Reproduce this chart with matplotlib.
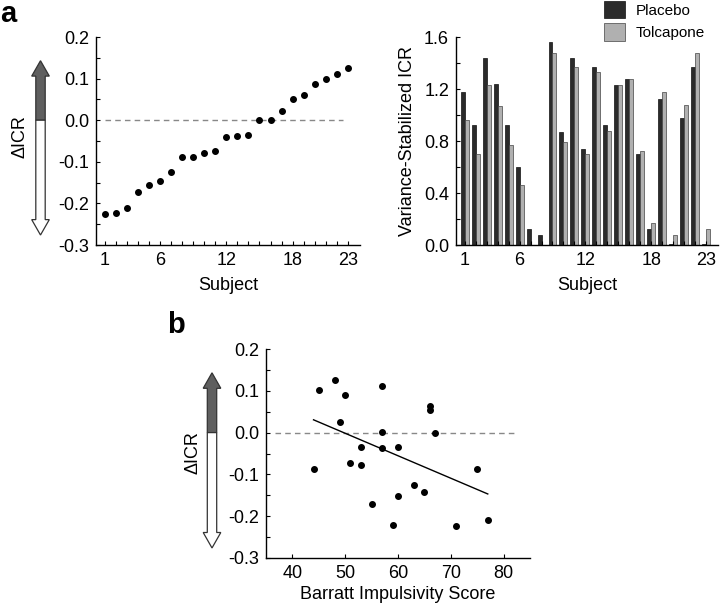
import numpy as np
import matplotlib
matplotlib.use("Agg")
import matplotlib.pyplot as plt
from matplotlib import transforms
from matplotlib.patches import Polygon
from matplotlib.ticker import MultipleLocator

plt.rcParams['font.family'] = ['Liberation Sans', 'DejaVu Sans']

# ---- data ----
subjects = np.arange(1, 24)
delta_icr = [-0.225, -0.222, -0.210, -0.172, -0.155, -0.146, -0.125, -0.088, -0.088,
             -0.078, -0.073, -0.040, -0.037, -0.035, 0.000, 0.001, 0.023, 0.052,
             0.061, 0.088, 0.100, 0.110, 0.125]
placebo = [1.18, 0.92, 1.44, 1.24, 0.92, 0.60, 0.12, 0.08, 1.56, 0.87, 1.44, 0.74,
           1.37, 0.92, 1.23, 1.28, 0.70, 0.12, 1.12, 0.01, 0.98, 1.37, 0.01]
tolcapone = [0.96, 0.70, 1.23, 1.07, 0.77, 0.46, 0.0, 0.0, 1.48, 0.79, 1.37, 0.70,
             1.33, 0.88, 1.23, 1.28, 0.72, 0.17, 1.18, 0.08, 1.08, 1.48, 0.12]
subject_ticks = [1, 6, 12, 18, 23]

barratt = [44, 45, 48, 50, 49, 51, 53, 53, 55, 57, 57, 57, 59, 60, 60, 63, 65, 66, 66,
           67, 71, 75, 77]
barratt_dicr = [-0.087, 0.101, 0.127, 0.090, 0.025, -0.072, -0.034, -0.077, -0.171,
                0.111, 0.001, -0.038, -0.220, -0.034, -0.152, -0.125, -0.143, 0.063,
                0.054, 0.000, -0.224, -0.087, -0.210]
fit_x = [44, 77]

W, H = 720, 607
FS = 13
fig = plt.figure(figsize=(W / 100, H / 100), dpi=100)


def ax_at(x0, y0, x1, y1):
    return fig.add_axes([x0 / W, 1 - y1 / H, (x1 - x0) / W, (y1 - y0) / H])


def style(ax):
    for s in ['top', 'right']:
        ax.spines[s].set_visible(False)
    for s in ['left', 'bottom']:
        ax.spines[s].set_linewidth(1.0)
    ax.tick_params(which='both', direction='in', length=3, width=0.8, labelsize=FS, pad=5)


def draw_arrow(ax, cx_px):
    tr = transforms.blended_transform_factory(fig.transFigure, ax.transData)
    cx = cx_px / W
    sw = 4.7 / W
    hw = 8.8 / W
    top, bot, hl = 0.143, -0.276, 0.037
    up = [(cx - sw, 0), (cx - sw, top - hl), (cx - hw, top - hl), (cx, top),
          (cx + hw, top - hl), (cx + sw, top - hl), (cx + sw, 0)]
    down = [(cx - sw, 0), (cx - sw, bot + hl), (cx - hw, bot + hl), (cx, bot),
            (cx + hw, bot + hl), (cx + sw, bot + hl), (cx + sw, 0)]
    fig.patches.append(Polygon(up, closed=True, transform=tr, facecolor='#5f5f5f',
                               edgecolor='#333333', lw=0.9, clip_on=False))
    fig.patches.append(Polygon(down, closed=True, transform=tr, facecolor='white',
                               edgecolor='#333333', lw=0.9, clip_on=False))


# ---- panel a left ----
ax1 = ax_at(96, 37, 360, 245)
style(ax1)
ax1.scatter(subjects, delta_icr, s=16, color='black', zorder=3)
ax1.plot([1, 22.6], [0, 0], ls=(0, (4, 3)), color='#888888', lw=1.0)
ax1.set_xlim(0.2, 24.1)
ax1.set_ylim(-0.3, 0.2)
ax1.set_yticks([-0.3, -0.2, -0.1, 0.0, 0.1, 0.2])
ax1.set_yticklabels(['-0.3', '-0.2', '-0.1', '0.0', '0.1', '0.2'])
ax1.yaxis.set_minor_locator(MultipleLocator(0.05))
ax1.set_xticks(subject_ticks)
ax1.set_xticks(subjects, minor=True)
ax1.set_xlabel('Subject', fontsize=FS, labelpad=6)
draw_arrow(ax1, 40.5)
fig.text(20 / W, 1 - 137 / H, 'ΔICR', rotation=90, fontsize=FS, ha='center', va='center')
fig.text(0 / W, 1 - 22 / H, 'a', fontsize=21, fontweight='bold', ha='left', va='baseline')

# ---- panel a right ----
ax2 = ax_at(456, 37, 718, 245)
style(ax2)
bw = 0.36
ax2.bar(subjects - bw / 2, placebo, width=bw, color='#2b2b2b', edgecolor='#111111',
        lw=0.5, label='Placebo')
ax2.bar(subjects + bw / 2, tolcapone, width=bw, color='#b0b0b0', edgecolor='#444444',
        lw=0.5, label='Tolcapone')
ax2.set_xlim(0.2, 24.1)
ax2.set_ylim(0, 1.6)
ax2.set_yticks([0.0, 0.4, 0.8, 1.2, 1.6])
ax2.set_yticklabels(['0.0', '0.4', '0.8', '1.2', '1.6'])
ax2.yaxis.set_minor_locator(MultipleLocator(0.2))
ax2.set_xticks(subject_ticks)
ax2.set_xticks(subjects, minor=True)
ax2.set_xlabel('Subject', fontsize=FS, labelpad=6)
ax2.set_ylabel('Variance-Stabilized ICR', fontsize=FS, labelpad=6)
leg = ax2.legend(loc='upper left', bbox_to_anchor=(604 / W, 1 - 1 / H),
                 bbox_transform=fig.transFigure, frameon=False, fontsize=11,
                 handlelength=1.35, handleheight=1.35, handletextpad=0.7,
                 labelspacing=0.35, borderpad=0, borderaxespad=0)

# ---- panel b ----
ax3 = ax_at(266, 349, 530, 558)
style(ax3)
ax3.scatter(barratt, barratt_dicr, s=16, color='black', zorder=3)
ax3.plot([36.7, 82.7], [0, 0], ls=(0, (4, 3)), color='#888888', lw=1.0)
coef = np.polyfit(barratt, barratt_dicr, 1)
fx = np.array(fit_x, dtype=float)
ax3.plot(fx, np.polyval(coef, fx), color='black', lw=1.0)
ax3.set_xlim(35, 85)
ax3.set_ylim(-0.3, 0.2)
ax3.set_xticks([40, 50, 60, 70, 80])
ax3.set_yticks([-0.3, -0.2, -0.1, 0.0, 0.1, 0.2])
ax3.set_yticklabels(['-0.3', '-0.2', '-0.1', '0.0', '0.1', '0.2'])
ax3.yaxis.set_minor_locator(MultipleLocator(0.05))
ax3.set_xlabel('Barratt Impulsivity Score', fontsize=FS, labelpad=3)
draw_arrow(ax3, 212)
fig.text(193 / W, 1 - 453 / H, 'ΔICR', rotation=90, fontsize=FS, ha='center', va='center')
fig.text(167 / W, 1 - 333 / H, 'b', fontsize=21, fontweight='bold', ha='left', va='baseline')

fig.savefig('out.png', dpi=100)
